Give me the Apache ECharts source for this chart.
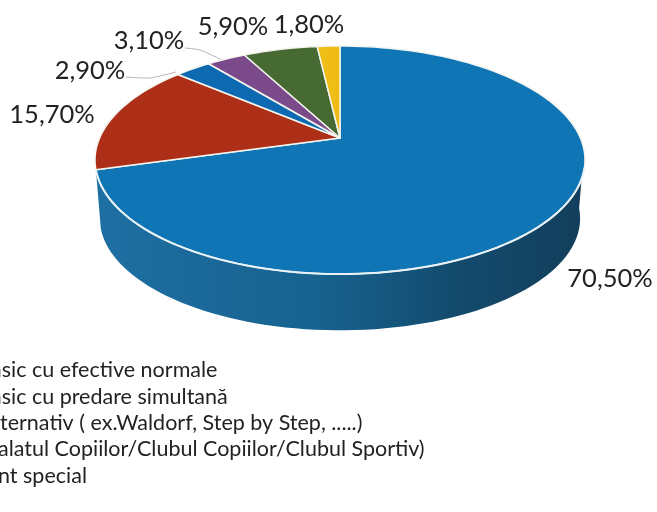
<!DOCTYPE html>
<html>
<head>
<meta charset="utf-8">
<style>
  html, body { margin: 0; padding: 0; background: #fff; }
  #chart { width: 657px; height: 512px; }
</style>
<script src="https://cdn.jsdelivr.net/npm/echarts@6/dist/echarts.min.js"></script>
</head>
<body>
<div id="chart"></div>
<script>
  // datele graficului
  const categories = [
    'asic cu efective normale',
    'asic cu predare simultană',
    'ternativ ( ex.Waldorf, Step by Step, .....)',
    'alatul Copiilor/Clubul Copiilor/Clubul Sportiv)',
    'nt special',
    ''
  ];
  const values = [70.5, 15.7, 2.9, 3.1, 5.9, 1.8];
  const colors = ['#0f75b5', '#ae2f17', '#0d69b0', '#7b4a8b', '#466a32', '#efbd15'];

  // geometry of the tilted disc (perspective, the hub is not the ellipse centre)
  const HUB_X = 340, HUB_Y = 138, RX = 240.4, RY = 109.8, K = 0.193;
  const DEPTH = 59, BOTTOM_SCALE = 0.98;
  const labelPos = [[610, 279], [52, 115], [90, 71], [149, 41], [233, 27], [309, 25]];

  function rim(deg, scale, dy) {
    const a = deg * Math.PI / 180;
    const u = Math.sin(a), v = -Math.cos(a), w = 1 - K * v;
    return [HUB_X + scale * RX * u / w, HUB_Y + dy + scale * RY * v / w];
  }
  function arc(from, to, scale, dy) {
    const pts = [];
    const n = Math.max(2, Math.ceil(Math.abs(to - from) / 2));
    for (let i = 0; i <= n; i++) {
      pts.push(rim(from + (to - from) * i / n, scale, dy));
    }
    return pts;
  }
  const total = values.reduce((s, x) => s + x, 0);
  function startAngle(idx) {
    let sum = 0;
    for (let i = 0; i < idx; i++) sum += values[i];
    return sum / total * 360;
  }
  function pct(v) {
    return v.toFixed(2).replace('.', ',') + '%';
  }

  function renderSlice(params, api) {
    const i = params.dataIndex;
    const from = startAngle(i);
    const to = from + api.value(0) / total * 360;
    const children = [];
    if (i === 0) {
      // peretele lateral, doar felul mare se vede
      children.push({
        type: 'polygon',
        shape: { points: arc(96, to, 1, 0).concat(arc(to, 96, BOTTOM_SCALE, DEPTH)) },
        style: {
          fill: new echarts.graphic.LinearGradient(0, 0, 1, 0, [
            { offset: 0, color: '#1e6fa3' },
            { offset: 0.45, color: '#17628f' },
            { offset: 0.75, color: '#134a6c' },
            { offset: 1, color: '#123e5b' }
          ])
        }
      });
    }
    children.push({
      type: 'polygon',
      shape: { points: [[HUB_X, HUB_Y]].concat(arc(from, to, 1, 0)) },
      style: { fill: colors[i], stroke: '#f4f4ee', lineWidth: 1.5, lineJoin: 'round' }
    });
    if (i === 0) {
      // linia deschisa de pe marginea din fata
      children.push({
        type: 'polyline',
        shape: { points: arc(105, to, 1, 0) },
        style: { stroke: '#e8f2f6', lineWidth: 2, fill: null }
      });
    }
    const p = labelPos[i];
    children.push({
      type: 'text',
      x: p[0], y: p[1],
      style: {
        text: pct(api.value(0)),
        fill: '#222',
        font: '25.5px Lato',
        align: 'center',
        verticalAlign: 'middle'
      }
    });
    return { type: 'group', children: children };
  }

  const chart = echarts.init(document.getElementById('chart'), null, { renderer: 'canvas' });
  chart.setOption({
    animation: false,
    backgroundColor: '#fff',
    series: [{
      type: 'custom',
      coordinateSystem: 'none',
      data: values,
      renderItem: renderSlice,
      silent: true
    }],
    graphic: {
      elements: [
        {
          type: 'polyline',
          shape: { points: [[126, 77], [150, 78], [176, 72]], smooth: 0.2 },
          style: { stroke: '#b5b5b5', lineWidth: 1, fill: null }
        },
        {
          type: 'polyline',
          shape: { points: [[185, 48], [200, 50], [222, 60]], smooth: 0.2 },
          style: { stroke: '#b5b5b5', lineWidth: 1, fill: null }
        }
      ].concat(categories.slice(0, 5).map((name, i) => ({
        type: 'text',
        x: [-9, -9, 0, -2, -2][i],
        y: [370, 397, 423, 449, 476][i],
        style: {
          text: name,
          fill: '#222',
          font: '21.5px Lato',
          align: 'left',
          verticalAlign: 'middle'
        }
      })))
    }
  });
</script>
</body>
</html>
